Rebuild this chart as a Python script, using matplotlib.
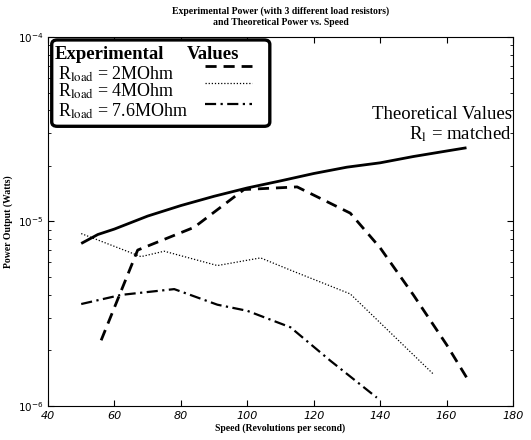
import matplotlib
matplotlib.use("Agg")
import matplotlib.pyplot as plt
from matplotlib.lines import Line2D
from matplotlib.patches import FancyBboxPatch
from matplotlib.ticker import LogLocator, NullFormatter

# theoretical power, matched load
speed_th = [50, 55, 60, 70, 80, 90, 100, 110, 120, 130, 140, 150, 160, 166]
power_th = [7.6e-6, 8.5e-6, 9.1e-6, 1.07e-5, 1.22e-5, 1.37e-5, 1.52e-5,
            1.66e-5, 1.82e-5, 1.97e-5, 2.08e-5, 2.25e-5, 2.41e-5, 2.51e-5]

# experimental, 2 MOhm
speed_2 = [56, 67, 84, 99, 115, 131, 140, 150, 160, 166]
power_2 = [2.27e-6, 7.0e-6, 9.3e-6, 1.49e-5, 1.54e-5, 1.11e-5,
           7.2e-6, 4.0e-6, 2.15e-6, 1.43e-6]

# experimental, 4 MOhm
speed_4 = [50, 68, 75, 91, 104, 113, 131, 156]
power_4 = [8.6e-6, 6.45e-6, 6.9e-6, 5.77e-6, 6.35e-6, 5.45e-6, 4.05e-6, 1.49e-6]

# experimental, 7.6 MOhm
speed_76 = [50, 62, 78, 91, 100, 113, 125, 139]
power_76 = [3.57e-6, 4.0e-6, 4.3e-6, 3.54e-6, 3.28e-6, 2.67e-6, 1.76e-6, 1.11e-6]

leg_labels = [r"R$_{\rm load}$ = 2MOhm", r"R$_{\rm load}$ = 4MOhm",
              r"R$_{\rm load}$ = 7.6MOhm"]

serif = "Liberation Serif"
plt.rcParams["mathtext.fontset"] = "stix"

styles = [dict(linewidth=2.0, dashes=(4, 2.5)),
          dict(linewidth=0.9, dashes=(1, 1.5)),
          dict(linewidth=1.6, dashes=(5, 2, 1, 2))]

fig = plt.figure(figsize=(5.31, 4.40), dpi=100)
ax = fig.add_axes([0.0904, 0.0773, 0.8757, 0.8386])

ax.plot(speed_th, power_th, color="black", linewidth=2.0, solid_capstyle="butt")
for (xs, ys), st in zip([(speed_2, power_2), (speed_4, power_4),
                         (speed_76, power_76)], styles):
    ax.plot(xs, ys, color="black", **st)

ax.set_yscale("log")
ax.set_xlim(40, 180)
ax.set_ylim(1e-6, 1e-4)
ax.set_xticks(range(40, 181, 20))
ax.yaxis.set_minor_locator(LogLocator(base=10, subs=range(2, 10)))
ax.yaxis.set_minor_formatter(NullFormatter())
ax.tick_params(which="both", direction="in", top=True, right=True, labelsize=8)
ax.tick_params(axis="y", labelsize=7.5)
ax.tick_params(which="major", length=4)
ax.tick_params(which="minor", length=2)
for lab in ax.get_xticklabels():
    lab.set_fontstyle("italic")

ax.set_title("Experimental Power (with 3 different load resistors)\n"
             "and Theoretical Power vs. Speed",
             fontsize=7, fontweight="bold", family=serif, pad=9)
ax.set_xlabel("Speed (Revolutions per second)", fontsize=7,
              fontweight="bold", family=serif, labelpad=2)
ax.set_ylabel("Power Output (Watts)", fontsize=7, fontweight="bold",
              family=serif)
ax.yaxis.set_label_coords(-0.075, 0.5)

# hand-made legend box (labels left, line samples right)
box = FancyBboxPatch((0.012, 0.762), 0.461, 0.226, transform=ax.transAxes,
                     boxstyle="round,pad=0.004,rounding_size=0.012",
                     facecolor="white", edgecolor="black", linewidth=2.4,
                     zorder=5)
ax.add_patch(box)
ax.text(0.015, 0.953, "Experimental", transform=ax.transAxes, fontsize=13.5,
        fontweight="bold", family=serif, va="center", zorder=6)
ax.text(0.298, 0.953, "Values", transform=ax.transAxes, fontsize=13.5,
        fontweight="bold", family=serif, va="center", zorder=6)
for lab, st, ty, ly in zip(leg_labels, styles, [0.900, 0.852, 0.800],
                           [0.921, 0.875, 0.818]):
    ax.text(0.022, ty, lab, transform=ax.transAxes, fontsize=13,
            family=serif, va="center", zorder=6)
    ax.add_line(Line2D([0.338, 0.439], [ly, ly], transform=ax.transAxes,
                       color="black", zorder=6, **st))

ax.text(0.997, 0.762, "Theoretical Values\n" + r"R$_{\rm l}$ = matched",
        transform=ax.transAxes, ha="right", va="center", fontsize=13.5,
        family=serif, linespacing=1.05, multialignment="right")

plt.savefig("out.png", dpi=100)
plt.close()
